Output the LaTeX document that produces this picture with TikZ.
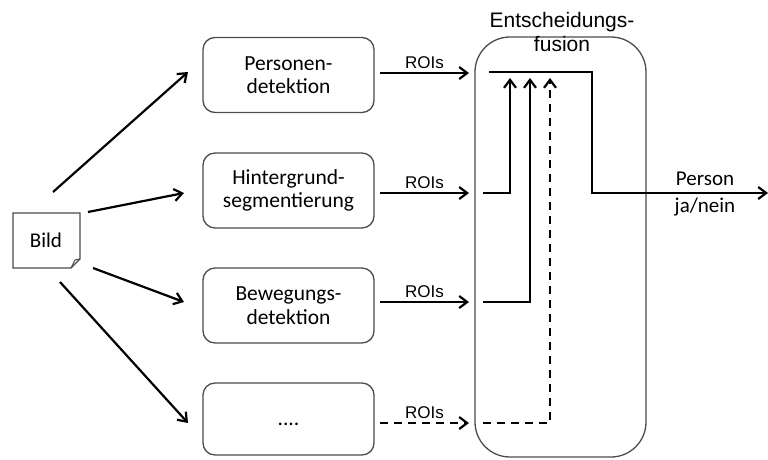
\documentclass[tikz,border=0pt]{standalone}
\usepackage{fontspec}
\setmainfont{Carlito}
\newfontfamily\arialf{Liberation Sans}
\usetikzlibrary{arrows.meta}
\begin{document}
\begin{tikzpicture}[x=1pt,y=-1pt,
  proc/.style={draw=black!70,line width=1.3pt,rounded corners=12pt,minimum width=171pt,minimum height=75pt,align=center,font=\fontsize{21.5}{23.5}\selectfont},
  conn/.style={line width=2.2pt,-{Straight Barb[length=8pt,width=12pt,line width=2.2pt]}},
  roi/.style={font=\arialf\fontsize{17}{19}\selectfont},
  lbl/.style={font=\fontsize{21}{23}\selectfont},
  dsh/.style={dash pattern=on 8pt off 6pt}]
\useasboundingbox (0,0) rectangle (768,459);
% document shape
\draw[draw=black!70,line width=1.3pt,fill=white] (13,213) -- (80,213) -- (80,259) -- (71,268) -- (13,268) -- cycle;
\draw[draw=black!70,line width=1pt] (80,259) -- (75,260) -- (71,268);
\node[lbl] (bild) at (46,240) {Bild};
% process boxes
\node[proc] (p1) at (288.5,75) {Personen-\\detektion};
\node[proc] (p2) at (288.5,190.5) {Hintergrund-\\segmentierung};
\node[proc] (p3) at (288.5,305.5) {Bewegungs-\\detektion};
\node[proc,minimum height=72pt] (p4) at (288.5,419) {\raisebox{-6pt}[0pt][0pt]{....}};
% fusion box
\node[draw=black!70,line width=1.3pt,rounded corners=35pt,minimum width=171pt,minimum height=420pt] (fus) at (560.5,247) {};
\node[font=\arialf\fontsize{21}{24}\selectfont,align=center] (ftitle) at (562,32) {Entscheidungs-\\fusion};
% Bild arrows
\coordinate (b1) at (53,192); \coordinate (e1) at (188,72);
\coordinate (b2) at (88,212); \coordinate (e2) at (184,193);
\coordinate (b3) at (93,268); \coordinate (e3) at (184,302);
\coordinate (b4) at (60,282); \coordinate (e4) at (188,423);
\draw[conn] (b1) -- (e1);
\draw[conn] (b2) -- (e2);
\draw[conn] (b3) -- (e3);
\draw[conn] (b4) -- (e4);
% ROI arrows
\coordinate (r1s) at (380,73); \coordinate (r1e) at (469,73);
\coordinate (r2s) at (380,193); \coordinate (r2e) at (469,193);
\coordinate (r3s) at (380,302); \coordinate (r3e) at (469,302);
\coordinate (r4s) at (380,423); \coordinate (r4e) at (469,423);
\draw[conn] (r1s) -- node[roi,above=0pt] (l1) {ROIs} (r1e);
\draw[conn] (r2s) -- node[roi,above=0pt] (l2) {ROIs} (r2e);
\draw[conn] (r3s) -- node[roi,above=0pt] (l3) {ROIs} (r3e);
\draw[conn,dsh] (r4s) -- node[roi,above=0pt] (l4) {ROIs} (r4e);
% inside fusion
\coordinate (t0) at (489,72); \coordinate (t1) at (592,72); \coordinate (t2) at (592,193);
\coordinate (out) at (768,193);
\draw[conn] (t0) -- (t1) -- (t2) -- (out);
\coordinate (i2) at (483,193); \coordinate (i2b) at (510,193); \coordinate (i2t) at (510,78);
\coordinate (i3) at (483,302); \coordinate (i3b) at (530,302); \coordinate (i3t) at (530,78);
\coordinate (i4) at (483,423); \coordinate (i4b) at (550,423); \coordinate (i4t) at (550,78);
\draw[conn] (i2) -- (i2b) -- (i2t);
\draw[conn] (i3) -- (i3b) -- (i3t);
\draw[conn,dsh] (i4) -- (i4b) -- (i4t);
\node[lbl] (pers) at (705,179) {Person};
\node[lbl] (jn) at (705,207) {ja/nein};
\end{tikzpicture}
\end{document}
